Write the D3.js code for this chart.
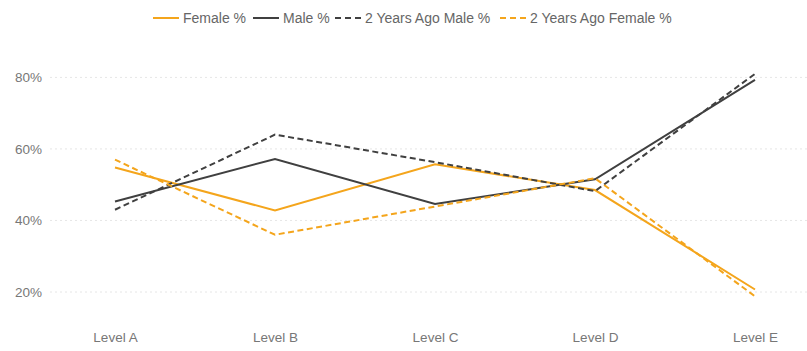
<!DOCTYPE html>
<html>
<head>
<meta charset="utf-8">
<script src="https://cdn.jsdelivr.net/npm/d3@7"></script>
<style>
  html, body { margin: 0; padding: 0; background: #fff; }
  svg { display: block; font-family: "Liberation Sans", Arial, sans-serif; }
</style>
</head>
<body>
<svg id="chart" width="807" height="351"></svg>
<script>
// Category levels along the x axis
const levels = ["Level A", "Level B", "Level C", "Level D", "Level E"];

// Percentages per level
const femalePct     = [54.8, 42.8, 55.7, 48.5, 20.7];
const malePct       = [45.3, 57.2, 44.6, 51.5, 79.3];
const maleAgoPct    = [43.0, 64.0, 56.3, 48.2, 81.0];
const femaleAgoPct  = [57.0, 36.0, 43.9, 51.8, 18.8];

// Y axis ticks
const yTicks = [20, 40, 60, 80];

const ORANGE = "#F4A51C";
const DARK = "#404040";
const DASH = "6,3.5";

const series = [
  { name: "Female %",             values: femalePct,    color: ORANGE, dash: null },
  { name: "Male %",               values: malePct,      color: DARK,   dash: null },
  { name: "2 Years Ago Male %",   values: maleAgoPct,   color: DARK,   dash: DASH },
  { name: "2 Years Ago Female %", values: femaleAgoPct, color: ORANGE, dash: DASH }
];

const svg = d3.select("#chart");

const x = d3.scalePoint().domain(levels).range([115, 755]);
const y = d3.scaleLinear().domain([20, 80]).range([292, 77.4]);

// Faint dotted gridlines
svg.append("g")
  .selectAll("line")
  .data(yTicks)
  .join("line")
  .attr("x1", 50).attr("x2", 807)
  .attr("y1", d => y(d)).attr("y2", d => y(d))
  .attr("stroke", "#e6e6e6")
  .attr("stroke-width", 1)
  .attr("stroke-dasharray", "2,3");

// Y axis labels
const yAxis = d3.axisLeft(y).tickValues(yTicks).tickFormat(d => d + "%").tickSize(0).tickPadding(0);
const yg = svg.append("g").attr("transform", "translate(42,0)").call(yAxis);
yg.select(".domain").remove();
yg.selectAll("text")
  .attr("fill", "#777")
  .attr("font-size", "13.5px")
  .attr("font-family", "'Liberation Sans', Arial, sans-serif");

// X axis labels
const xAxis = d3.axisBottom(x).tickSize(0).tickPadding(0);
const xg = svg.append("g").attr("transform", "translate(0,332)").call(xAxis);
xg.select(".domain").remove();
xg.selectAll("text")
  .attr("fill", "#777")
  .attr("font-size", "13.5px")
  .attr("font-family", "'Liberation Sans', Arial, sans-serif");

// Lines
const line = d3.line()
  .x((d, i) => x(levels[i]))
  .y(d => y(d));

svg.append("g")
  .selectAll("path")
  .data(series)
  .join("path")
  .attr("d", d => line(d.values))
  .attr("fill", "none")
  .attr("stroke", d => d.color)
  .attr("stroke-width", 2)
  .attr("stroke-linejoin", "miter")
  .attr("stroke-dasharray", d => d.dash);

// Legend
const legendX = [153, 253, 335, 500];
const legend = svg.append("g").attr("transform", "translate(0,18)");
const items = legend.selectAll("g")
  .data(series)
  .join("g")
  .attr("transform", (d, i) => `translate(${legendX[i]},0)`);

items.append("line")
  .attr("x1", 0).attr("x2", 26)
  .attr("y1", 0).attr("y2", 0)
  .attr("stroke", d => d.color)
  .attr("stroke-width", 2)
  .attr("stroke-dasharray", d => d.dash ? "6,4" : null);

items.append("text")
  .attr("x", 30)
  .attr("y", 0)
  .attr("dy", "0.35em")
  .attr("fill", "#666")
  .attr("font-size", "14px")
  .text(d => d.name);
</script>
</body>
</html>
